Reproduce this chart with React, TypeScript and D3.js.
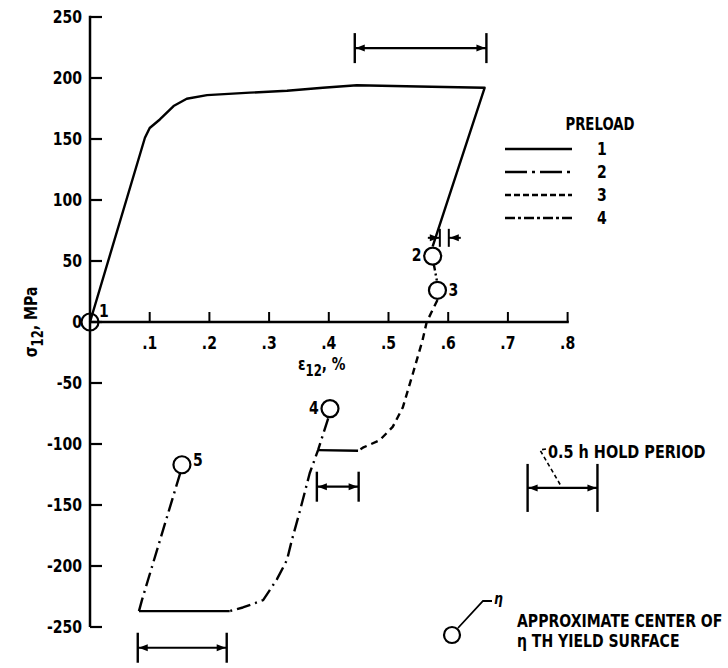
import React from "react";
import * as d3 from "d3";

// strain (%) / stress (MPa) pairs
const loadPath1: [number, number][] = [
  [0, 0], [0.092, 151], [0.1, 159], [0.117, 166], [0.14, 177], [0.162, 183],
  [0.196, 186], [0.268, 188], [0.33, 189.5], [0.39, 192], [0.447, 194],
  [0.55, 193], [0.661, 192], [0.574, 62],
];
const link2: [number, number][] = [[0.576, 47], [0.581, 34]];
const unload3: [number, number][] = [
  [0.582, 18], [0.564, 0], [0.557, -15], [0.541, -42], [0.524, -70], [0.507, -86],
  [0.485, -97], [0.457, -103], [0.449, -105.5],
];
const hold3: [number, number][] = [[0.449, -105.5], [0.382, -105]];
const unload4: [number, number][] = [
  [0.399, -79], [0.382, -105], [0.368, -124], [0.351, -156], [0.338, -179],
  [0.33, -195], [0.313, -211], [0.29, -228], [0.256, -234], [0.234, -237],
];
const hold4: [number, number][] = [[0.234, -237], [0.082, -237]];
const reload5: [number, number][] = [[0.082, -237], [0.087, -228], [0.151, -124]];

const yieldCenters = [
  { id: "1", e: 0, s: 0 },
  { id: "2", e: 0.574, s: 54 },
  { id: "3", e: 0.582, s: 26 },
  { id: "4", e: 0.402, s: -71 },
  { id: "5", e: 0.154, s: -117 },
];

// hold periods: start strain, end strain, stress level of the arrow
const holdPeriods = [
  { from: 0.4435, to: 0.664, at: 224.5 },
  { from: 0.38, to: 0.45, at: -135 },
  { from: 0.08, to: 0.229, at: -267 },
  { from: 0.733, to: 0.85, at: -136 },
];
const tinyHold = { from: 0.586, to: 0.601, at: 69 };

const yTicks = [250, 200, 150, 100, 50, 0, -50, -100, -150, -200, -250];
const xTicks = [0.1, 0.2, 0.3, 0.4, 0.5, 0.6, 0.7, 0.8];
const xTickLabels = [".1", ".2", ".3", ".4", ".5", ".6", ".7", ".8"];
const preloads = ["1", "2", "3", "4"];

const FONT = "'DejaVu Sans', sans-serif";
const SQUEEZE = 0.78; // the original lettering is a narrow bold face

// text squeezed horizontally to look condensed
const T: React.FC<{
  x: number;
  y: number;
  anchor?: "start" | "middle" | "end";
  size?: number;
  dy?: string;
  italic?: boolean;
  children: React.ReactNode;
}> = ({ x, y, anchor = "start", size = 17, dy, italic, children }) => (
  <text
    transform={`translate(${x},${y}) scale(${SQUEEZE},1)`}
    textAnchor={anchor}
    fontSize={size}
    dy={dy}
    fontStyle={italic ? "italic" : undefined}
  >
    {children}
  </text>
);

export default function App() {
  const x = d3.scaleLinear().domain([0, 0.8]).range([90, 567.6]);
  const y = d3.scaleLinear().domain([-250, 250]).range([627, 17]);
  const line = d3
    .line<[number, number]>()
    .x((d) => x(d[0]))
    .y((d) => y(d[1]));

  const dashDot = "14,5,2,5";
  const lineStyle = { fill: "none", stroke: "#000", strokeWidth: 2.4, strokeLinejoin: "round" as const };

  // little filled arrow head, pointing in dir (+1 right, -1 left)
  const head = (px: number, py: number, dir: number, k: string) => (
    <path key={k} d={`M${px},${py} l${-dir * 9},-3.5 l0,7 z`} fill="#000" />
  );

  const labelSide: Record<string, [number, number]> = {
    "1": [14, -11], "2": [-16, -2], "3": [16, -1], "4": [-16, -1], "5": [16, -5],
  };
  const legendY = [149, 172, 195, 218];
  const legendDash = ["none", "22,5,3,5", "6,3", "10,3,3,3"];

  return (
    <svg
      width={728}
      height={668}
      style={{ position: "absolute", left: 0, top: 0, background: "#fff" }}
      fontFamily={FONT}
      fontWeight="bold"
    >
      {/* axes */}
      <line x1={x(0)} x2={x(0)} y1={y(251)} y2={y(-250)} stroke="#000" strokeWidth={2.5} />
      <line x1={x(0)} x2={x(0.802)} y1={y(0)} y2={y(0)} stroke="#000" strokeWidth={2.5} />
      {yTicks.map((t) => (
        <g key={t}>
          <line x1={x(0)} x2={x(0) + 12} y1={y(t)} y2={y(t)} stroke="#000" strokeWidth={2.2} />
          <T x={82} y={y(t)} dy="0.36em" anchor="end" size={18}>
            {t}
          </T>
        </g>
      ))}
      {xTicks.map((t, i) => (
        <g key={t}>
          <line x1={x(t)} x2={x(t)} y1={y(0)} y2={y(0) - 10} stroke="#000" strokeWidth={2} />
          <T x={x(t)} y={y(0) + 27} anchor="middle" size={18}>
            {xTickLabels[i]}
          </T>
        </g>
      ))}
      <T x={298} y={370} size={17.5}>
        ε<tspan dy={6} fontSize={15}>12</tspan>
        <tspan dy={-6}>, %</tspan>
      </T>
      <text transform={`translate(37,322) rotate(-90) scale(${SQUEEZE},1)`} textAnchor="middle" fontSize={18}>
        σ<tspan dy={6} fontSize={15}>12</tspan>
        <tspan dy={-6}>, MPa</tspan>
      </text>

      {/* curves */}
      <path d={line(loadPath1) || ""} {...lineStyle} />
      <path d={line(link2) || ""} {...lineStyle} strokeDasharray="6,3,2,3" />
      <path d={line(unload3) || ""} {...lineStyle} strokeDasharray="7,5" />
      <path d={line(hold3) || ""} {...lineStyle} />
      <path d={line(unload4) || ""} {...lineStyle} strokeDasharray={dashDot} />
      <path d={line(hold4) || ""} {...lineStyle} />
      <path d={line(reload5) || ""} {...lineStyle} strokeDasharray={dashDot} />

      {/* yield surface centers */}
      {yieldCenters.map((p) => (
        <g key={p.id}>
          <circle cx={x(p.e)} cy={y(p.s)} r={8.5} fill={p.id === "1" ? "none" : "#fff"} stroke="#000" strokeWidth={2.2} />
          <T x={x(p.e) + labelSide[p.id][0]} y={y(p.s) + labelSide[p.id][1]} dy="0.36em" anchor="middle" size={18}>
            {p.id}
          </T>
        </g>
      ))}

      {/* hold period markers */}
      {holdPeriods.map((h, i) => {
        const x0 = x(h.from);
        const x1 = x(h.to);
        const yy = y(h.at);
        const half = i === 3 ? 24 : 15;
        return (
          <g key={i}>
            <line x1={x0} x2={x0} y1={yy - half} y2={yy + half} stroke="#000" strokeWidth={2.4} />
            <line x1={x1} x2={x1} y1={yy - half} y2={yy + half} stroke="#000" strokeWidth={2.4} />
            <line x1={x0} x2={x1} y1={yy} y2={yy} stroke="#000" strokeWidth={2.2} />
            {head(x0 + 1, yy, -1, "a")}
            {head(x1 - 1, yy, 1, "b")}
          </g>
        );
      })}
      <g>
        <line x1={x(tinyHold.from)} x2={x(tinyHold.from)} y1={y(tinyHold.at) - 9} y2={y(tinyHold.at) + 9} stroke="#000" strokeWidth={2} />
        <line x1={x(tinyHold.to)} x2={x(tinyHold.to)} y1={y(tinyHold.at) - 9} y2={y(tinyHold.at) + 9} stroke="#000" strokeWidth={2} />
        <line x1={x(tinyHold.from) - 12} x2={x(tinyHold.from)} y1={y(tinyHold.at)} y2={y(tinyHold.at)} stroke="#000" strokeWidth={2} />
        <line x1={x(tinyHold.to)} x2={x(tinyHold.to) + 12} y1={y(tinyHold.at)} y2={y(tinyHold.at)} stroke="#000" strokeWidth={2} />
        {head(x(tinyHold.from) - 1, y(tinyHold.at), 1, "c")}
        {head(x(tinyHold.to) + 1, y(tinyHold.at), -1, "d")}
      </g>

      {/* hold period note */}
      <path d="M546,449 L540,450 L561,486" fill="none" stroke="#000" strokeWidth={1.6} strokeDasharray="4,3" />
      <T x={548} y={458} size={18.5}>
        0.5 h HOLD PERIOD
      </T>

      {/* legend */}
      <T x={600} y={130} anchor="middle" size={17}>
        PRELOAD
      </T>
      {preloads.map((p, i) => (
        <g key={p}>
          <line
            x1={505}
            x2={572}
            y1={legendY[i]}
            y2={legendY[i]}
            stroke="#000"
            strokeWidth={2.4}
            strokeDasharray={legendDash[i]}
          />
          <T x={602} y={legendY[i]} dy="0.36em" anchor="middle" size={18}>
            {p}
          </T>
        </g>
      ))}

      {/* yield center key */}
      <circle cx={452} cy={635} r={8} fill="#fff" stroke="#000" strokeWidth={2.2} />
      <path d="M458,628 L483,601 L492,601" fill="none" stroke="#000" strokeWidth={1.8} />
      <T x={494} y={604} size={16} italic>
        η
      </T>
      <T x={517} y={627} size={18}>
        APPROXIMATE CENTER OF
      </T>
      <T x={517} y={647} size={18}>
        η TH YIELD SURFACE
      </T>
    </svg>
  );
}
